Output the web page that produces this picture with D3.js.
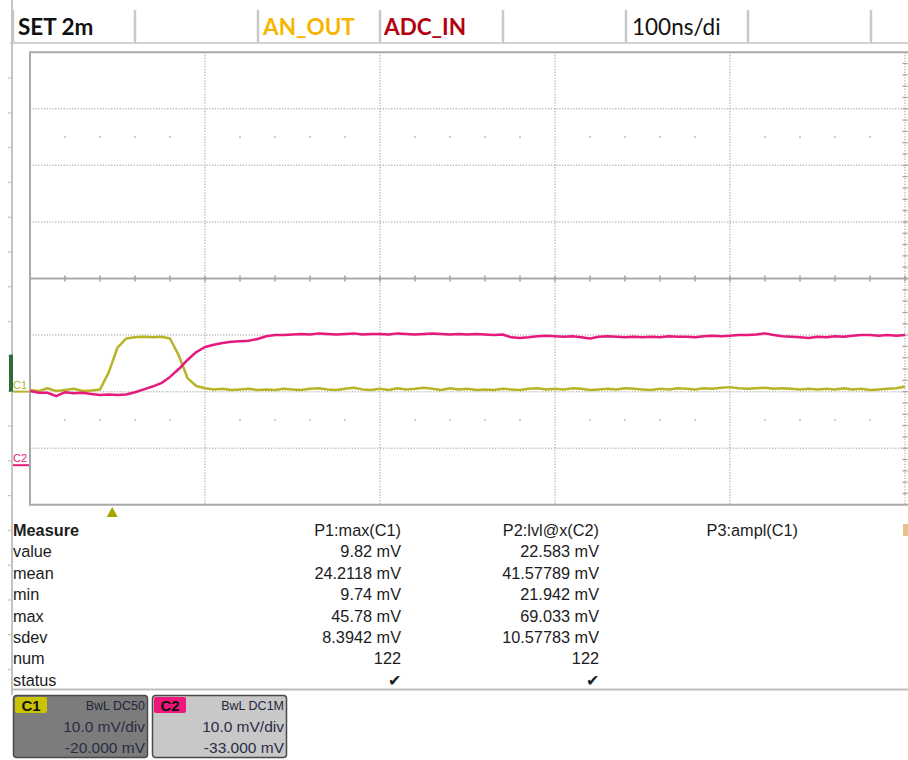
<!DOCTYPE html>
<html>
<head>
<meta charset="utf-8">
<script src="https://d3js.org/d3.v7.min.js"></script>
<style>
body { margin: 0; background: #fff; }
svg { display: block; }
</style>
</head>
<body>
<svg id="scope" width="908" height="760"></svg>

<script>
// ---- data ----
// header cells of the scope
const headerLabels = ["SET 2m", "AN_OUT", "ADC_IN", "100ns/di"];
// measurement table
const measureRows = ["value", "mean", "min", "max", "sdev", "num", "status"];
const measureCols = ["P1:max(C1)", "P2:lvl@x(C2)", "P3:ampl(C1)"];
const p1Values = ["9.82 mV", "24.2118 mV", "9.74 mV", "45.78 mV", "8.3942 mV", "122", "\u2714"];
const p2Values = ["22.583 mV", "41.57789 mV", "21.942 mV", "69.033 mV", "10.57783 mV", "122", "\u2714"];
const p3Values = ["", "", "", "", "", "", ""];
// channel settings
const channels = ["C1", "C2"];
const chCoupling = ["BwL DC50", "BwL DC1M"];
const chScale = ["10.0 mV/div", "10.0 mV/div"];
const chOffset = [-20, -33];   // mV

// sample interval of the trace read-out (ns), screen starts at 0 ns
const sampleStep = 5;
const triggerTime = 47;       // ns, trigger marker

// C1 (AN_OUT) in mV
const c1 = [0.3, 0.1, 0.6, 0.1, 0.3, 0.5, 0.1, 0.2, 0.4, 3.4,
  7.8, 9.4, 9.6, 9.7, 9.6, 9.7, 9.4, 6.4, 2.4, 1.0,
  0.6, 0.4, 0.5, 0.3, 0.4, 0.5, 0.3, 0.4, 0.3, 0.5,
  0.4, 0.3, 0.5, 0.6, 0.4, 0.3, 0.5, 0.7, 0.4, 0.3,
  0.5, 0.3, 0.6, 0.4, 0.5, 0.7, 0.5, 0.3, 0.6, 0.4,
  0.5, 0.3, 0.4, 0.3, 0.5, 0.4, 0.3, 0.5, 0.6, 0.4,
  0.5, 0.4, 0.6, 0.5, 0.3, 0.4, 0.5, 0.4, 0.6, 0.5,
  0.4, 0.3, 0.5, 0.4, 0.6, 0.5, 0.4, 0.6, 0.5, 0.7,
  0.8, 0.6, 0.5, 0.6, 0.7, 0.5, 0.6, 0.5, 0.4, 0.5,
  0.4, 0.5, 0.4, 0.6, 0.4, 0.5, 0.3, 0.4, 0.5, 0.6, 0.9];

// C2 (ADC_IN) in mV
const c2 = [13.1, 12.8, 12.8, 12.2, 12.9, 12.7, 12.8, 12.6, 12.4, 12.5,
  12.4, 12.5, 12.9, 13.4, 13.9, 14.5, 15.6, 17.0, 18.6, 20.0,
  20.9, 21.3, 21.6, 21.8, 21.9, 22.0, 22.3, 22.8, 23.0, 23.0,
  23.1, 23.2, 23.1, 23.3, 23.2, 23.1, 23.2, 23.3, 23.1, 23.2,
  23.2, 23.1, 23.3, 23.2, 23.1, 23.2, 23.3, 23.2, 23.1, 23.2,
  23.1, 23.2, 23.1, 23.0, 23.1, 22.6, 22.5, 22.6, 22.8, 22.9,
  22.8, 22.7, 22.8, 22.6, 22.4, 22.7, 22.8, 22.7, 22.6, 22.7,
  22.6, 22.7, 22.6, 22.8, 22.7, 22.7, 22.6, 22.8, 22.9, 22.8,
  22.9, 23.0, 23.0, 23.1, 23.3, 23.0, 22.8, 22.7, 22.6, 22.5,
  22.7, 22.6, 22.8, 22.7, 22.9, 23.0, 23.0, 22.9, 23.0, 22.9, 23.0];

// ---- setup ----
const svg = d3.select("#scope");
const W = +svg.attr("width");
const gridCol = "#b9b9b9";
const c1Col = "#b8b428";
const c2Col = "#e6197c";
const textFont = "'Liberation Sans', Arial, sans-serif";

// 10 divisions x 100 ns, 8 divisions x 10 mV
const x = d3.scaleLinear().domain([0, 1000]).range([30, 1780]);
const y = d3.scaleLinear().domain([-40, 40]).range([504.8, 52.2]);

// ---- header bar ----
const head = svg.append("g");
head.append("line").attr("x1", 10).attr("x2", W).attr("y1", 43).attr("y2", 43)
    .attr("stroke", "#d2d2d2").attr("stroke-width", 2);
[13, 135, 258, 380, 503, 626, 748, 871].forEach(sx => {
  head.append("line").attr("x1", sx).attr("x2", sx).attr("y1", 10).attr("y2", 43)
      .attr("stroke", "#c8c8c8").attr("stroke-width", 2.5);
});
const headX = [18, 263, 384, 632];
const headCol = ["#111", "#f7b500", "#b3000f", "#111"];
const headW = ["bold", "bold", "bold", "normal"];
head.selectAll("text.h").data(headerLabels).join("text")
    .attr("class", "h")
    .attr("x", (d, i) => headX[i]).attr("y", 35)
    .attr("font-family", "Lato, 'Open Sans', sans-serif")
    .attr("font-size", 22.5)
    .attr("font-weight", (d, i) => headW[i])
    .attr("fill", (d, i) => headCol[i])
    .text(d => d);

// outer left rule with ticks
svg.append("line").attr("x1", 12).attr("x2", 12).attr("y1", 0).attr("y2", 695)
   .attr("stroke", "#c4c4c4").attr("stroke-width", 2);
svg.selectAll("line.lt").data(d3.range(78, 690, 34.8)).join("line")
   .attr("class", "lt").attr("x1", 8).attr("x2", 11).attr("y1", d => d).attr("y2", d => d)
   .attr("stroke", "#c4c4c4").attr("stroke-width", 1.2);

// ---- plot grid ----
const plot = svg.append("g");
svg.append("clipPath").attr("id", "clip").append("rect")
   .attr("x", 30).attr("y", 52).attr("width", W - 30).attr("height", 453);

const grid = plot.append("g").attr("clip-path", "url(#clip)");
// dotted horizontal division lines
grid.selectAll("line.hg").data([-30, -20, -10, 10, 20, 30]).join("line")
    .attr("class", "hg")
    .attr("x1", x(0)).attr("x2", W).attr("y1", d => y(d)).attr("y2", d => y(d))
    .attr("stroke", gridCol).attr("stroke-width", 1.5).attr("stroke-dasharray", "1.2,1.6");
// dotted vertical division lines
grid.selectAll("line.vg").data([100, 200, 300, 400, 500]).join("line")
    .attr("class", "vg")
    .attr("x1", d => x(d)).attr("x2", d => x(d)).attr("y1", y(40)).attr("y2", y(-40))
    .attr("stroke", gridCol).attr("stroke-width", 1.5).attr("stroke-dasharray", "1.2,1.6");
// minor dots rows
const dotTimes = d3.range(20, 500, 20).filter(t => t % 100 !== 0);
[25, -25].forEach(v => {
  grid.selectAll(null).data(dotTimes).join("circle")
      .attr("cx", d => x(d)).attr("cy", y(v)).attr("r", 1)
      .attr("fill", "#bdbdbd");
});
// centre axis with ticks
grid.append("line").attr("x1", x(0)).attr("x2", W).attr("y1", y(0)).attr("y2", y(0))
    .attr("stroke", "#a9a9a9").attr("stroke-width", 2);
grid.selectAll("line.ct").data(d3.range(20, 520, 20)).join("line")
    .attr("class", "ct")
    .attr("x1", d => x(d)).attr("x2", d => x(d)).attr("y1", y(0) - 3).attr("y2", y(0) + 3)
    .attr("stroke", "#a0a0a0").attr("stroke-width", 1.5);
grid.selectAll("line.vt").data(d3.range(-40, 40, 2)).join("line")
    .attr("class", "vt")
    .attr("x1", x(500) - 2.5).attr("x2", x(500) + 2.5).attr("y1", d => y(d)).attr("y2", d => y(d))
    .attr("stroke", "#a0a0a0").attr("stroke-width", 1.2);

// frame
plot.append("path")
    .attr("d", `M${W + 2},${y(40)} H${x(0)} V${y(-40)} H${W + 2}`)
    .attr("fill", "none").attr("stroke", "#a9a9a9").attr("stroke-width", 2);

// ---- traces ----
const times = d3.range(0, c1.length * sampleStep, sampleStep);
function trace(values, offset, colour) {
  const line = d3.line()
      .x((d, i) => x(times[i]))
      .y(d => y(d + offset));
  plot.append("path").attr("clip-path", "url(#clip)")
      .attr("d", line(values))
      .attr("fill", "none").attr("stroke", colour)
      .attr("stroke-width", 2.5).attr("stroke-linejoin", "round");
}
trace(c1, chOffset[0], c1Col);
trace(c2, chOffset[1], c2Col);

// ground markers on the left
svg.append("rect").attr("x", 9).attr("y", y(-20) - 37).attr("width", 4).attr("height", 37)
   .attr("fill", "#2e6b3a");
const gnd = [{ name: "C1", v: chOffset[0], col: c1Col }, { name: "C2", v: chOffset[1], col: c2Col }];
gnd.forEach(g => {
  svg.append("text").attr("x", 13).attr("y", y(g.v) - 3)
     .attr("font-family", textFont).attr("font-size", 11).attr("fill", g.col).text(g.name);
  svg.append("line").attr("x1", 13).attr("x2", 29).attr("y1", y(g.v)).attr("y2", y(g.v))
     .attr("stroke", g.col).attr("stroke-width", 2);
});

// trigger marker
const tx = x(triggerTime);
svg.append("path").attr("d", `M${tx - 5.5},517 L${tx + 5.5},517 L${tx},507 Z`).attr("fill", "#a8a400");

// ---- measurement table ----
const tbl = svg.append("g").attr("font-family", textFont).attr("font-size", 16.3).attr("fill", "#1c1c22");
const rowY = d => 536 + 21.4 * d;
tbl.append("text").attr("x", 13).attr("y", rowY(0)).attr("font-weight", "bold").text("Measure");
tbl.selectAll("text.rl").data(measureRows).join("text")
   .attr("class", "rl").attr("x", 13).attr("y", (d, i) => rowY(i + 1)).text(d => d);
const colRight = [401, 599, 798];
const colVals = [p1Values, p2Values, p3Values];
measureCols.forEach((c, ci) => {
  tbl.append("text").attr("x", colRight[ci]).attr("y", rowY(0)).attr("text-anchor", "end").text(c);
  tbl.selectAll(null).data(colVals[ci]).join("text")
     .attr("x", colRight[ci]).attr("y", (d, i) => rowY(i + 1)).attr("text-anchor", "end")
     .text(d => d);
});
tbl.append("rect").attr("x", 903).attr("y", 524).attr("width", 6).attr("height", 12).attr("fill", "#e8c08a");
svg.append("line").attr("x1", 12).attr("x2", W).attr("y1", 689.5).attr("y2", 689.5)
   .attr("stroke", "#bdbdbd").attr("stroke-width", 2);

// ---- channel boxes ----
const boxX = [13, 152];
const boxFill = ["#7c7c7c", "#c8c8c8"];
const tagFill = ["#c9c300", "#f0167b"];
channels.forEach((ch, i) => {
  const g = svg.append("g").attr("transform", `translate(${boxX[i]},695)`);
  g.append("rect").attr("x", 0.5).attr("y", 0.5).attr("width", 134).attr("height", 62).attr("rx", 3)
   .attr("fill", boxFill[i]).attr("stroke", "#4a4a4a").attr("stroke-width", 1.5);
  g.append("rect").attr("x", 2).attr("y", 2).attr("width", 32).attr("height", 16).attr("rx", 2)
   .attr("fill", tagFill[i]);
  g.append("text").attr("x", 18).attr("y", 15.5).attr("text-anchor", "middle")
   .attr("font-family", textFont).attr("font-weight", "bold").attr("font-size", 15).attr("fill", "#111")
   .text(ch);
  g.append("text").attr("x", 132).attr("y", 15).attr("text-anchor", "end")
   .attr("font-family", textFont).attr("font-size", 12.5).attr("fill", "#23263a").text(chCoupling[i]);
  g.append("text").attr("x", 132).attr("y", 37).attr("text-anchor", "end")
   .attr("font-family", textFont).attr("font-size", 15.5).attr("fill", "#2a2d45").text(chScale[i]);
  g.append("text").attr("x", 132).attr("y", 58).attr("text-anchor", "end")
   .attr("font-family", textFont).attr("font-size", 15.5).attr("fill", "#2a2d45")
   .text(d3.format(".3f")(chOffset[i]).replace("\u2212", "-") + " mV");
});
</script>
</body>
</html>
